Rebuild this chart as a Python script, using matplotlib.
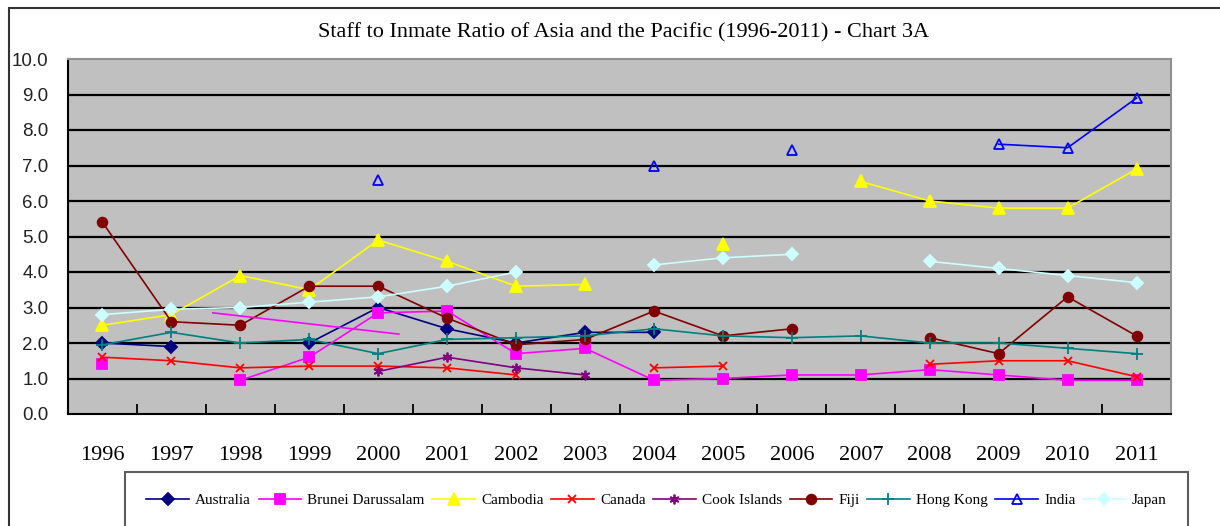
import numpy as np
import matplotlib
matplotlib.use("Agg")
import matplotlib.pyplot as plt
from matplotlib.patches import Rectangle

nan = np.nan
years = list(range(1996, 2012))

australia = [2.0, 1.9, nan, 2.0, 3.0, 2.4, 2.0, 2.3, 2.3, nan, nan, nan, nan, nan, nan, nan]
brunei = [1.4, nan, 0.95, 1.6, 2.85, 2.9, 1.7, 1.85, 0.95, 1.0, 1.1, 1.1, 1.25, 1.1, 0.95, 0.95]
cambodia = [2.5, 2.8, 3.9, 3.5, 4.9, 4.3, 3.6, 3.65, nan, 4.8, nan, 6.55, 6.0, 5.8, 5.8, 6.9]
canada = [1.6, 1.5, 1.3, 1.35, 1.35, 1.3, 1.1, nan, 1.3, 1.35, nan, nan, 1.4, 1.5, 1.5, 1.05]
cook = [nan, nan, nan, nan, 1.2, 1.6, 1.3, 1.1, nan, nan, nan, nan, nan, nan, nan, nan]
fiji = [5.4, 2.6, 2.5, 3.6, 3.6, 2.7, 1.95, 2.1, 2.9, 2.2, 2.4, nan, 2.15, 1.7, 3.3, 2.2]
hongkong = [1.95, 2.3, 2.0, 2.1, 1.7, 2.1, 2.15, 2.2, 2.4, 2.2, 2.15, 2.2, 2.0, 2.0, 1.85, 1.7]
india = [nan, nan, nan, nan, 6.6, nan, nan, nan, 7.0, nan, 7.45, nan, nan, 7.6, 7.5, 8.9]
japan = [2.8, 2.95, 3.0, 3.15, 3.3, 3.6, 4.0, nan, 4.2, 4.4, 4.5, nan, 4.3, 4.1, 3.9, 3.7]

# stray unlabelled magenta stroke on the original chart
stray_x = [1997.6, 2000.3]
stray_y = [2.85, 2.25]

series = [
    ("Australia", australia, "#000080", "D", 6, "#000080"),
    ("Brunei Darussalam", brunei, "#FF00FF", "s", 7, "#FF00FF"),
    ("Cambodia", cambodia, "#FFFF00", "^", 8, "#FFFF00"),
    ("Canada", canada, "#FF0000", "x", 6, "#FF0000"),
    ("Cook Islands", cook, "#800080", (6, 2, 0), 7, "#800080"),
    ("Fiji", fiji, "#800000", "o", 7, "#800000"),
    ("Hong Kong", hongkong, "#008080", "+", 8, "#008080"),
    ("India", india, "#0000FF", "^", 7, "none"),
    ("Japan", japan, "#CCFFFF", "D", 6, "#CCFFFF"),
]

W, H = 1220, 526
fig = plt.figure(figsize=(W / 100, H / 100), dpi=100)
fig.patch.set_facecolor("white")

# outer chart border (clipped by the image on right and bottom)
fig.patches.append(Rectangle((9 / W, -0.2), 1.5, 1 - 8 / H + 0.2, transform=fig.transFigure,
                             fill=False, edgecolor="#333333", linewidth=1.5))

ax = fig.add_axes([68 / W, 1 - 414 / H, (1171 - 68) / W, (414 - 59) / H])
ax.set_facecolor("#C0C0C0")

for name, vals, col, mk, ms, fc in series:
    ax.plot(years, vals, color=col, marker=mk, markersize=ms, markerfacecolor=fc,
            markeredgecolor=col, linewidth=1.2, markeredgewidth=1.3, label=name)

ax.plot(stray_x, stray_y, color="#FF00FF", linewidth=1.2)

ax.set_xlim(1995.5, 2011.5)
ax.set_ylim(0, 10)
ax.set_yticks(np.arange(0, 11, 1))
ax.set_yticklabels([f"{v:.1f}" for v in range(11)], fontfamily="Liberation Sans", fontsize=13.5,
                   color="#222222")
ax.tick_params(axis="y", length=0, pad=14)
ax.set_xticks(years)
ax.set_xticklabels([str(y) for y in years], fontfamily="Liberation Serif", fontsize=16)
ax.tick_params(axis="x", which="major", length=0, pad=23)
ax.set_xticks([y + 0.5 for y in years[:-1]], minor=True)
ax.tick_params(axis="x", which="minor", direction="in", length=7, width=1.3, color="black")

for v in range(1, 10):
    ax.axhline(v, color="black", linewidth=1.6, zorder=1)

for side in ["left", "bottom"]:
    ax.spines[side].set_color("black")
    ax.spines[side].set_linewidth(1.5)
for side in ["top", "right"]:
    ax.spines[side].set_color("#909090")
    ax.spines[side].set_linewidth(1.5)

fig.text(624 / W, 1 - 33 / H, "Staff to Inmate Ratio of Asia and the Pacific (1996-2011) - Chart 3A",
         ha="center", va="center", fontfamily="Liberation Serif", fontsize=16)

handles, labels = ax.get_legend_handles_labels()
leg_top = 1 - 472 / H
leg = fig.legend(handles, labels, loc="upper left", ncol=9, mode="expand",
                 bbox_to_anchor=(125 / W, -0.1, (1188 - 125) / W, leg_top + 0.1),
                 prop={"family": "Liberation Serif", "size": 11}, numpoints=1,
                 handlelength=2.8, handletextpad=0.4, columnspacing=0.6,
                 frameon=True, fancybox=False, borderpad=1.4, borderaxespad=0)
leg.get_frame().set_edgecolor("#333333")
leg.get_frame().set_linewidth(1.5)

fig.savefig("out.png", dpi=100)
